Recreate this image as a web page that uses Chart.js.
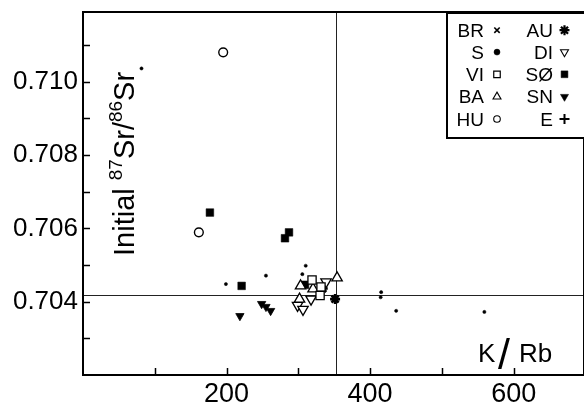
<!DOCTYPE html>
<html><head><meta charset="utf-8">
<script src="https://cdn.jsdelivr.net/npm/chart.js@4.4.1/dist/chart.umd.min.js"></script>
<style>html,body{margin:0;padding:0;background:#fff;overflow:hidden}canvas{display:block}</style>
</head><body>
<canvas id="c" width="584" height="405"></canvas>
<script>
const FONT = '"Liberation Sans", Arial, Helvetica, sans-serif';

// ---- data (K/Rb, initial 87Sr/86Sr) ----
const seriesS  = [[81.5,0.71036],[199.1,0.70448],[254.9,0.70471],[310.3,0.70498],[305.6,0.70475],[415.4,0.70426],[414.7,0.70412],[436.3,0.70375],[559.2,0.70372]];
const seriesSO = [[176.8,0.70643],[287.0,0.70589],[281.4,0.70573],[221.0,0.70443],[309.3,0.70446]];
const seriesHU = [[195.3,0.71080],[161.4,0.70589]];
const seriesSN = [[218.6,0.70361],[248.9,0.70394],[254.9,0.70386],[261.4,0.70375]];
const seriesBA = [[303.1,0.70443],[320.5,0.70435],[354.0,0.70465],[301.7,0.70407]];
const seriesDI = [[338.6,0.70454],[317.7,0.70407],[298.9,0.70390],[306.5,0.70379]];
const seriesVI = [[319.1,0.70459],[331.6,0.70440],[330.3,0.70417]];
const seriesAU = [[351.2,0.70407],[334.0,0.70436]];
const seriesBR = [];
const seriesE  = [];

const refK = 353;
const refSr = 0.70418;

const xTickValues = [100,200,300,400,500,600];
const xTickLabels = ['', '200', '', '400', '', '600'];
const yTickValues = [0.703,0.704,0.705,0.706,0.707,0.708,0.709,0.710,0.711];
const yTickLabels = ['', '0.704', '', '0.706', '', '0.708', '', '0.710', ''];

const legendCol1 = ['BR','S','VI','BA','HU'];
const legendCol2 = ['AU','DI','SØ','SN','E'];

// ---- marker styles ----
const STY = {
  BR: {pointStyle:'crossRot', radius:4.5, fill:'#000', border:'#000', bw:1.6, rot:0, lr:3.8, lbw:1.6},
  S:  {pointStyle:'circle',   radius:1.6, fill:'#000', border:'#000', bw:0.5, rot:0, lr:3.0, lbw:0.5},
  VI: {pointStyle:'rect',     radius:5.8, fill:'#fff', border:'#000', bw:1.3, rot:0, lr:4.6, lbw:1.2},
  BA: {pointStyle:'triangle', radius:6.0, fill:'#fff', border:'#000', bw:1.3, rot:0, lr:4.6, lbw:1.1},
  HU: {pointStyle:'circle',   radius:4.4, fill:'#fff', border:'#000', bw:1.4, rot:0, lr:3.3, lbw:1.1},
  AU: {pointStyle:'star',     radius:5.0, fill:'#000', border:'#000', bw:2.6, rot:0, lr:5.0, lbw:2.2},
  DI: {pointStyle:'triangle', radius:6.0, fill:'#fff', border:'#000', bw:1.3, rot:180, lr:4.6, lbw:1.1},
  'SØ': {pointStyle:'rect',   radius:5.4, fill:'#000', border:'#000', bw:0.5, rot:0, lr:4.8, lbw:0.5},
  SN: {pointStyle:'triangle', radius:4.8, fill:'#000', border:'#000', bw:0.8, rot:180, lr:4.6, lbw:0.6},
  E:  {pointStyle:'cross',    radius:5.0, fill:'#000', border:'#000', bw:2.0, rot:0, lr:5.0, lbw:2.0}
};

const seriesList = [
  ['HU', seriesHU], ['VI', seriesVI], ['BA', seriesBA], ['DI', seriesDI],
  ['SØ', seriesSO], ['SN', seriesSN], ['S', seriesS], ['AU', seriesAU],
  ['BR', seriesBR], ['E', seriesE]
];

const datasets = seriesList.map(([name, arr]) => {
  const s = STY[name];
  return {
    label: name,
    data: arr.map(([x, y]) => ({x, y})),
    pointStyle: s.pointStyle,
    pointRadius: s.radius,
    pointHoverRadius: s.radius,
    pointBackgroundColor: s.fill,
    pointBorderColor: s.border,
    pointBorderWidth: s.bw,
    pointRotation: s.rot,
    showLine: false
  };
});

const decor = {
  id: 'decor',
  beforeDatasetsDraw(chart) {
    const {ctx, chartArea: a, scales: {x, y}} = chart;
    ctx.save();
    ctx.strokeStyle = '#222';
    ctx.lineWidth = 1;
    const yr = Math.round(y.getPixelForValue(refSr)) + 0.5;
    ctx.beginPath(); ctx.moveTo(a.left, yr); ctx.lineTo(a.right, yr); ctx.stroke();
    const xr = Math.round(x.getPixelForValue(refK)) + 0.5;
    ctx.beginPath(); ctx.moveTo(xr, a.top); ctx.lineTo(xr, a.bottom); ctx.stroke();
    ctx.restore();
  },
  afterDatasetsDraw(chart) {
    const {ctx, chartArea: a, scales: {x, y}} = chart;
    ctx.save();
    // frame
    ctx.strokeStyle = '#000';
    ctx.lineWidth = 2;
    ctx.strokeRect(a.left, a.top, a.right - a.left, a.bottom - a.top);
    // inward ticks
    ctx.lineWidth = 1.5;
    ctx.beginPath();
    xTickValues.forEach(v => {
      const px = Math.round(x.getPixelForValue(v)) + 0.5;
      ctx.moveTo(px, a.bottom); ctx.lineTo(px, a.bottom - 7);
    });
    yTickValues.forEach(v => {
      const py = Math.round(y.getPixelForValue(v)) + 0.5;
      ctx.moveTo(a.left, py); ctx.lineTo(a.left + 7, py);
    });
    ctx.stroke();

    // legend box
    const lb = {left: 447, top: a.top + 1, right: 590, bottom: 138};
    ctx.fillStyle = '#fff';
    ctx.fillRect(lb.left, lb.top, lb.right - lb.left, lb.bottom - lb.top);
    ctx.lineWidth = 2;
    ctx.strokeStyle = '#000';
    ctx.strokeRect(lb.left, lb.top, lb.right - lb.left, lb.bottom - lb.top);
    const rowBase = [36.7, 58.6, 80.8, 103.2, 125.5];
    ctx.font = '19px ' + FONT;
    ctx.textBaseline = 'alphabetic';
    ctx.textAlign = 'right';
    const cols = [[legendCol1, 484, 497], [legendCol2, 553, 564.5]];
    cols.forEach(([names, textRight, symX]) => {
      names.forEach((n, i) => {
        const s = STY[n];
        ctx.fillStyle = '#000';
        ctx.fillText(n, textRight, rowBase[i]);
        const cy = rowBase[i] - 6.5;
        ctx.fillStyle = s.fill;
        ctx.strokeStyle = s.border;
        ctx.lineWidth = s.lbw;
        Chart.helpers.drawPoint(ctx, {pointStyle: s.pointStyle, rotation: s.rot, radius: s.lr, borderWidth: s.lbw}, symX, cy);
      });
    });

    // K/Rb label
    ctx.fillStyle = '#000';
    ctx.textAlign = 'left';
    ctx.font = '26px ' + FONT;
    ctx.fillText('K', 478, 362);
    ctx.font = '43px ' + FONT;
    ctx.fillText('/', 498, 369);
    ctx.font = '26px ' + FONT;
    ctx.fillText('Rb', 519, 362);

    // Rotated y label: Initial 87Sr/86Sr
    ctx.translate(134, 256);
    ctx.rotate(-Math.PI / 2);
    const segs = [['Initial ', 29, 0], ['87', 19, -12], ['Sr', 29, 0], ['/', 29, 0], ['86', 19, -12], ['Sr', 29, 0]];
    let cx = 0;
    segs.forEach(([t, size, dy]) => {
      ctx.font = size + 'px ' + FONT;
      ctx.fillText(t, cx, dy);
      cx += ctx.measureText(t).width;
    });
    ctx.restore();
  }
};

new Chart(document.getElementById('c'), {
  type: 'scatter',
  data: {datasets},
  options: {
    responsive: false,
    animation: false,
    devicePixelRatio: 1,
    layout: {autoPadding: false, padding: {top: 12, left: 0, right: 0, bottom: 0}},
    plugins: {legend: {display: false}, tooltip: {enabled: false}, title: {display: false}},
    scales: {
      x: {
        type: 'linear', min: 0, max: 698,
        afterBuildTicks: s => { s.ticks = xTickValues.map(v => ({value: v})); },
        afterFit: s => { s.height = 30; s.paddingLeft = 0; s.paddingRight = 0; },
        ticks: {
          callback: (v, i) => xTickLabels[i],
          font: {family: FONT, size: 27}, color: '#000', padding: 3,
          maxRotation: 0, autoSkip: false
        },
        grid: {display: false, drawTicks: false},
        border: {display: false}
      },
      y: {
        type: 'linear', min: 0.702, max: 0.7119,
        afterBuildTicks: s => { s.ticks = yTickValues.map(v => ({value: v})); },
        afterFit: s => { s.width = 83; s.paddingTop = 0; s.paddingBottom = 0; },
        ticks: {
          callback: (v, i) => yTickLabels[i],
          font: {family: FONT, size: 26}, color: '#000', padding: 5,
          autoSkip: false
        },
        grid: {display: false, drawTicks: false},
        border: {display: false}
      }
    }
  },
  plugins: [decor]
});
</script>
</body></html>
